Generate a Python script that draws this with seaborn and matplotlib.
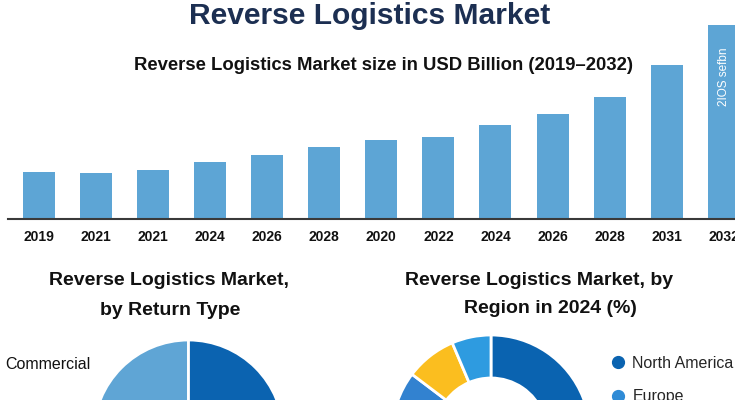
import numpy as np
import pandas as pd
import matplotlib
matplotlib.use("Agg")
import matplotlib.pyplot as plt
from matplotlib.lines import Line2D
from matplotlib import font_manager
import seaborn as sns

# ---------------- data ----------------
years = ["2019", "2021", "2021", "2024", "2026", "2028", "2020",
         "2022", "2024", "2026", "2028", "2031", "2032"]
market_size = [47.3, 46.0, 49.3, 57.0, 64.0, 72.0, 79.0,
               82.0, 94.0, 105.0, 122.0, 154.0, 194.0]
bar_note = "2IOS sefbn"

return_types = ["Commercial", "Consumer"]
return_share = [50, 50]

regions = ["North America", "Europe", "Asia Pacific",
           "Latin America", "Middle East & Africa"]
region_share = [38.0, 27.0, 20.3, 8.3, 6.4]

# ---------------- style ----------------
sns.set_theme(style="white")
plt.rcParams["font.family"] = ["Liberation Sans", "DejaVu Sans"]

installed = {f.name for f in font_manager.fontManager.ttflist}
if "Liberation Sans Narrow" in installed:
    tick_family, tick_size = "Liberation Sans Narrow", 11.5
else:
    tick_family, tick_size = "Liberation Sans", 10

W, H = 735, 400
fig = plt.figure(figsize=(W / 100, H / 100), dpi=100)
fig.patch.set_facecolor("white")

BAR_C = "#5DA5D5"
NAVY = "#1C2F52"
TXT = "#111111"

# ---------------- bar chart ----------------
ax = fig.add_axes([8 / W, (H - 219) / H, (W - 8) / W, 194 / H])
ax.patch.set_alpha(0)
df = pd.DataFrame({"idx": np.arange(len(years)), "size": market_size})
sns.barplot(data=df, x="idx", y="size", color=BAR_C, saturation=1,
            width=0.56, linewidth=0, ax=ax)
ax.set_xlim(-0.538, 12.195)
ax.set_ylim(0, max(market_size))
ax.set_xticks(np.arange(len(years)))
ax.set_xticklabels(years, fontweight="bold", fontsize=tick_size,
                   family=tick_family, color=TXT)
ax.tick_params(axis="x", length=0, pad=8)
ax.set_yticks([])
ax.set_xlabel("")
ax.set_ylabel("")
for s in ["left", "right", "top"]:
    ax.spines[s].set_visible(False)
ax.spines["bottom"].set_color("#3a3a3a")
ax.spines["bottom"].set_linewidth(1.5)
ax.text(len(years) - 1, 142, bar_note, rotation=90, color="white",
        ha="center", va="center", fontsize=8.5)

# ---------------- titles ----------------
fig.text(369.5 / W, 1 - 24 / H, "Reverse Logistics Market", ha="center",
         va="baseline", fontsize=21.6, fontweight="bold", color=NAVY)
fig.text(383.5 / W, 1 - 70 / H,
         "Reverse Logistics Market size in USD Billion (2019\u20132032)",
         ha="center", va="baseline", fontsize=13.3, fontweight="bold", color=TXT)

fig.text(169 / W, 1 - 285 / H, "Reverse Logistics Market,", ha="center",
         va="baseline", fontsize=14, fontweight="bold", color=TXT)
fig.text(170 / W, 1 - 315 / H, "by Return Type", ha="center",
         va="baseline", fontsize=14, fontweight="bold", color=TXT)
fig.text(539 / W, 1 - 285 / H, "Reverse Logistics Market, by", ha="center",
         va="baseline", fontsize=14, fontweight="bold", color=TXT)
fig.text(550 / W, 1 - 313 / H, "Region in 2024 (%)", ha="center",
         va="baseline", fontsize=14, fontweight="bold", color=TXT)

# ---------------- pie: return type ----------------
r1, cx1, cy1 = 95, 188.5, 435
ax2 = fig.add_axes([(cx1 - r1) / W, (H - cy1 - r1) / H, 2 * r1 / W, 2 * r1 / H])
ax2.pie(return_share, colors=["#5FA5D5", "#0B63B0"], startangle=90,
        counterclock=True, wedgeprops=dict(edgecolor="white", linewidth=2))
ax2.set_xlim(-1, 1)
ax2.set_ylim(-1, 1)
ax2.set_aspect("equal")
fig.text(5 / W, 1 - 369 / H, return_types[0], ha="left", va="baseline",
         fontsize=11.5, color=TXT)

# ---------------- donut: region ----------------
region_colors = ["#0A63B0", "#2F8BD6", "#3282D0", "#FBBE1F", "#2E9BE0"]
r2, cx2, cy2 = 99, 491, 434
ax3 = fig.add_axes([(cx2 - r2) / W, (H - cy2 - r2) / H, 2 * r2 / W, 2 * r2 / H])
ax3.pie(region_share, colors=region_colors, startangle=90, counterclock=False,
        wedgeprops=dict(width=43 / 99, edgecolor="white", linewidth=2))
ax3.set_xlim(-1, 1)
ax3.set_ylim(-1, 1)
ax3.set_aspect("equal")

handles = [Line2D([], [], marker="o", ls="none", markersize=8.5,
                  markerfacecolor=c, markeredgecolor=c) for c in region_colors]
fig.legend(handles, regions, loc="upper left",
           bbox_to_anchor=(610 / W, 1 - 356 / H), frameon=False,
           fontsize=11.5, handlelength=1.0, handletextpad=0.4,
           borderpad=0, borderaxespad=0, labelspacing=1.15)

fig.savefig("out.png", dpi=100)
